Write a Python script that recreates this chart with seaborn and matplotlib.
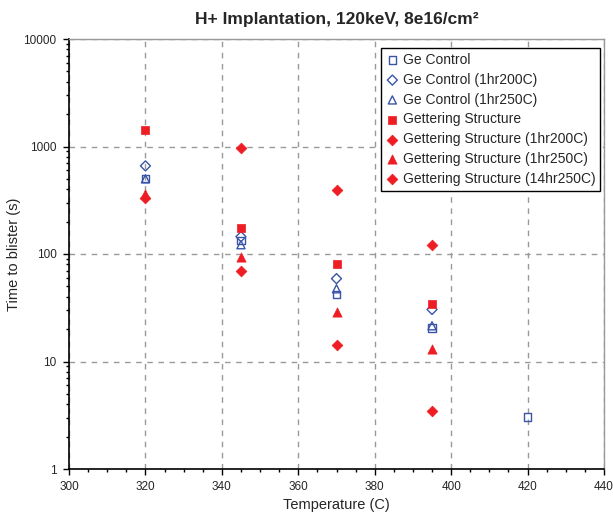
import matplotlib
matplotlib.use("Agg")
import matplotlib.pyplot as plt
import seaborn as sns
import pandas as pd
import numpy as np
from matplotlib.ticker import LogLocator, MultipleLocator, NullFormatter

sns.set_style("white")
plt.rcParams['font.family'] = ['Liberation Sans', 'DejaVu Sans']

# Data
ge_control_x = [320, 345, 370, 395, 420]
ge_control_y = [505, 133, 42, 20.5, 3.05]
ge_200_x = [320, 345, 370, 395]
ge_200_y = [660, 145, 59, 30.5]
ge_250_x = [320, 345, 370, 395]
ge_250_y = [500, 122, 47.5, 21.5]
get_x = [320, 345, 370, 395]
get_y = [1420, 175, 80, 34.5]
get_200_x = [345, 370, 395]
get_200_y = [960, 390, 120]
get_250_x = [320, 345, 370, 395]
get_250_y = [360, 94, 29, 13]
get_14_x = [320, 345, 370, 395]
get_14_y = [330, 70, 14.2, 3.5]

x_ticks = [300, 320, 340, 360, 380, 400, 420, 440]
y_ticks = [1, 10, 100, 1000, 10000]
y_tick_labels = ["1", "10", "100", "1000", "10000"]

blue = "#3a55a8"
red = "#ee1d23"

fig = plt.figure(figsize=(6.13, 5.16), dpi=100)
ax = fig.add_axes([69/613, 1-469/516, (604-69)/613, (469-39)/516])

series = [
    ("Ge Control", ge_control_x, ge_control_y, "s", False, 30),
    ("Ge Control (1hr200C)", ge_200_x, ge_200_y, "D", False, 26),
    ("Ge Control (1hr250C)", ge_250_x, ge_250_y, "^", False, 34),
    ("Gettering Structure", get_x, get_y, "s", True, 40),
    ("Gettering Structure (1hr200C)", get_200_x, get_200_y, "D", True, 30),
    ("Gettering Structure (1hr250C)", get_250_x, get_250_y, "^", True, 44),
    ("Gettering Structure (14hr250C)", get_14_x, get_14_y, "D", True, 30),
]

for name, xs, ys, m, filled, s in series:
    df = pd.DataFrame({"x": xs, "y": ys})
    if filled:
        sns.scatterplot(data=df, x="x", y="y", marker=m, s=s, color=red,
                        edgecolor=red, linewidth=0.5, ax=ax, label=name, zorder=3)
    else:
        sns.scatterplot(data=df, x="x", y="y", marker=m, s=s, facecolors="none",
                        edgecolor=blue, linewidth=1.0, ax=ax, label=name, zorder=3)

ax.set_yscale("log")
ax.set_xlim(300, 440)
ax.set_ylim(1, 10000)
ax.xaxis.set_minor_locator(MultipleLocator(5))
ax.yaxis.set_minor_locator(LogLocator(base=10, subs=np.arange(2, 10), numticks=20))
ax.yaxis.set_minor_formatter(NullFormatter())
ax.set_yticks(y_ticks)
ax.set_yticklabels(y_tick_labels)
ax.set_xticks(x_ticks)
ax.set_xticklabels([str(v) for v in x_ticks])

ax.tick_params(axis="both", which="major", direction="out", length=4, width=1, labelsize=8.5, color="black", bottom=True, left=True, pad=5)
ax.tick_params(axis="both", which="minor", direction="out", length=2.5, width=1, color="black", bottom=True, left=True)

ax.grid(True, which="major", linestyle=(0, (4, 4)), color="#999999", linewidth=1)
for sp in ["left", "bottom"]:
    ax.spines[sp].set_color("black")
    ax.spines[sp].set_linewidth(1.2)
for sp in ["top", "right"]:
    ax.spines[sp].set_color("#999999")
    ax.spines[sp].set_linewidth(1)

ax.set_xlabel("Temperature (C)", fontsize=10.5, labelpad=3)
ax.set_ylabel("Time to blister (s)", fontsize=10.5)
ax.yaxis.set_label_coords((21 - 69) / 535, 0.5)
ax.set_title("H+ Implantation, 120keV, 8e16/cm²", fontsize=12.5, fontweight="bold", pad=11)

leg = ax.legend(loc="upper right", bbox_to_anchor=(0.993, 0.979), fontsize=10, frameon=True,
                fancybox=False, framealpha=1, edgecolor="black", handletextpad=0.25,
                borderpad=0.35, labelspacing=0.42, handlelength=1.0, borderaxespad=0.0)
leg.get_frame().set_linewidth(1)

fig.savefig("out.png", dpi=100)
